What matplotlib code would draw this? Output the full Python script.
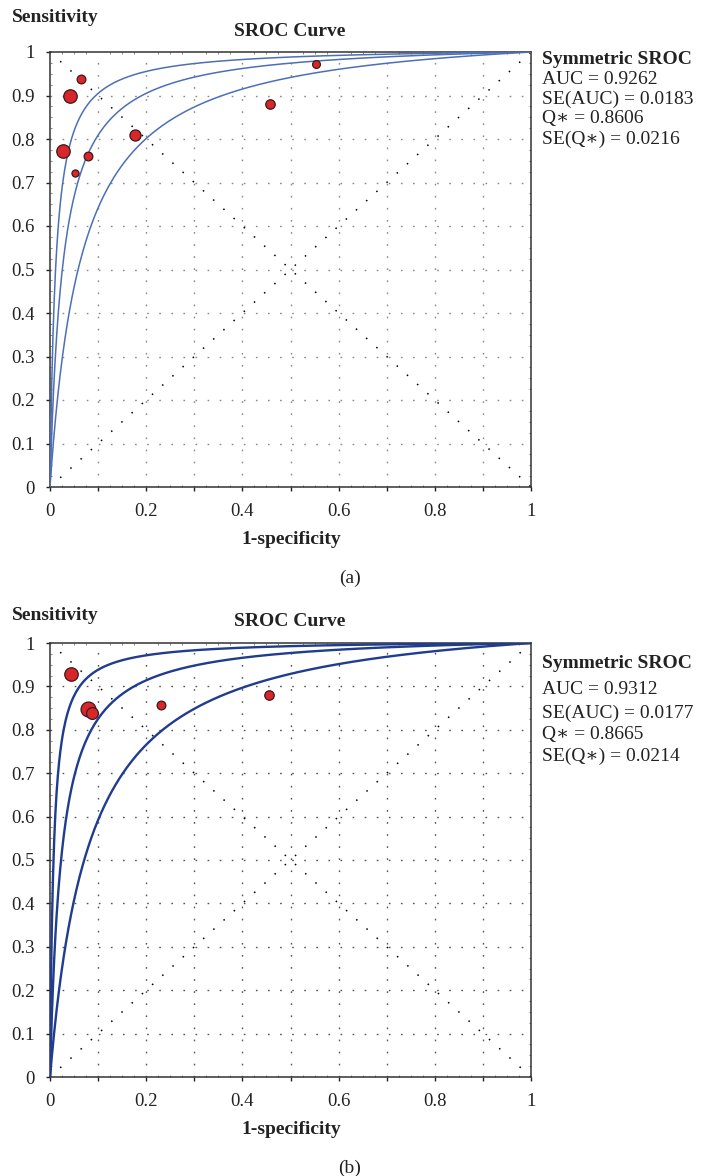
import numpy as np
import matplotlib
matplotlib.use('Agg')
import matplotlib.pyplot as plt
from matplotlib.ticker import MultipleLocator

plt.rcParams['font.family'] = ['Liberation Serif', 'DejaVu Serif']

# panel (a) studies: 1-specificity, sensitivity, weight
fpr_a = [0.064, 0.042, 0.026, 0.052, 0.080, 0.177, 0.457, 0.552]
tpr_a = [0.938, 0.900, 0.772, 0.722, 0.762, 0.809, 0.881, 0.972]
wt_a = [3.7, 5.7, 5.7, 3.0, 3.7, 4.7, 4.0, 3.3]
# symmetric SROC log diagnostic odds ratio (curve, lower, upper)
lnd_a = [3.64, 2.78, 4.45]
stats_a = ['AUC = 0.9262', 'SE(AUC) = 0.0183', 'Q\u2217 = 0.8606', 'SE(Q\u2217) = 0.0216']

# panel (b)
fpr_b = [0.044, 0.080, 0.088, 0.231, 0.455]
tpr_b = [0.928, 0.849, 0.838, 0.857, 0.880]
wt_b = [5.7, 6.3, 5.0, 3.7, 4.0]
lnd_b = [3.75, 2.57, 4.92]
stats_b = ['AUC = 0.9312', 'SE(AUC) = 0.0177', 'Q\u2217 = 0.8665', 'SE(Q\u2217) = 0.0214']

ticks = [0, 0.1, 0.2, 0.3, 0.4, 0.5, 0.6, 0.7, 0.8, 0.9, 1]
ytick_labels = ['0', '0.1', '0.2', '0.3', '0.4', '0.5', '0.6', '0.7', '0.8', '0.9', '1']
xtick_labels = ['0', '', '0.2', '', '0.4', '', '0.6', '', '0.8', '', '1']

W, H = 702, 1176
fig = plt.figure(figsize=(W / 100, H / 100), dpi=100)


def px(x, y):
    return x / W, 1 - y / H


def panel(top, bottom, fpr, tpr, wt, lnd, stats, curve_col, curve_lw, grid_col,
          text_y, lab_y, tag):
    ax = fig.add_axes([50 / W, 1 - bottom / H, 481 / W, (bottom - top) / H])
    ax.set_xlim(0, 1)
    ax.set_ylim(0, 1)
    ax.set_xticks(ticks)
    ax.set_yticks(ticks)
    ax.set_xticklabels(xtick_labels)
    ax.set_yticklabels(ytick_labels)
    ax.xaxis.set_minor_locator(MultipleLocator(0.025))
    ax.yaxis.set_minor_locator(MultipleLocator(0.025))
    ax.tick_params(which='major', direction='out', length=3.2, width=1,
                   labelsize=13.5, pad=8, colors='#222222')
    ax.tick_params(which='minor', direction='in', length=1.6, width=0.5,
                   top=True, right=True, bottom=True, left=True, colors='#555555')
    for s in ax.spines.values():
        s.set_linewidth(1.1)
        s.set_color('#333333')

    for t in ticks[1:-1]:
        ax.axhline(t, color=grid_col, lw=1.0, ls=(0, (1.2, 7.5)), zorder=1)
        ax.axvline(t, color=grid_col, lw=1.0, ls=(0, (1.2, 7.5)), zorder=1)

    ax.plot([0, 1], [0, 1], color='black', lw=1.1, ls=(0, (1, 8)), zorder=2)
    ax.plot([0, 1], [1, 0], color='black', lw=1.1, ls=(0, (1, 8)), zorder=2)

    x = np.linspace(1e-5, 1, 800)
    for d in lnd:
        odds = np.exp(d) * x / (1 - x + 1e-12)
        y = odds / (1 + odds)
        y[-1] = 1.0
        ax.plot(np.r_[0, x], np.r_[0, y], color=curve_col, lw=curve_lw, zorder=3)

    for xi, yi, w in zip(fpr, tpr, wt):
        ax.plot(xi, yi, 'o', ms=2 * w * 0.85, mfc='#d9262b', mec='#3a1a1a',
                mew=0.9, zorder=4)

    fig.text(*px(12, lab_y[0]), 'Sensitivity', fontsize=14, fontweight='bold',
             va='center', ha='left', color='#222222')
    fig.text(*px(290, lab_y[1]), 'SROC Curve', fontsize=14, fontweight='bold',
             va='center', ha='center', color='#222222')
    fig.text(*px(291, bottom + 53), '1-specificity', fontsize=14, fontweight='bold',
             va='center', ha='center', color='#222222')
    fig.text(*px(350, bottom + 91), tag, fontsize=14, va='center', ha='center',
             color='#222222')

    fig.text(*px(542, text_y[0]), 'Symmetric SROC', fontsize=14, fontweight='bold',
             va='center', ha='left', color='#222222')
    for i, s in enumerate(stats):
        fig.text(*px(542, text_y[i + 1]), s, fontsize=14, va='center', ha='left',
                 color='#222222')
    return ax


panel(52, 487, fpr_a, tpr_a, wt_a, lnd_a, stats_a, '#4d6fb6', 1.1, '#8a8a8a',
      [59, 79, 99, 119, 139], [18, 32], '(a)')
panel(643, 1077, fpr_b, tpr_b, wt_b, lnd_b, stats_b, '#1f3c8e', 1.7, '#555555',
      [664, 690, 713, 734, 756], [615, 622], '(b)')

fig.savefig('out.png', dpi=100)
